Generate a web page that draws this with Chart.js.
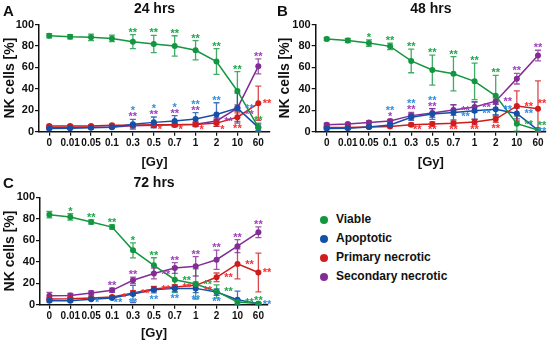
<!DOCTYPE html>
<html lang="en">
<head>
<meta charset="UTF-8" />
<title>NK cells after irradiation</title>
<script src="https://cdn.jsdelivr.net/npm/chart.js@4.4.1/dist/chart.umd.min.js"></script>
<style>
  body { margin: 0; background: #fff; font-family: 'Liberation Sans', Arial, sans-serif; }
  #wrap { position: relative; width: 550px; height: 343px; overflow: hidden; }
  .panel { position: absolute; }
  .letter { position: absolute; font-size: 15px; line-height: 15px; font-weight: bold; color: #111; }
  #legend { position: absolute; left: 320px; top: 210px; font-size: 12px; font-weight: bold; color: #111; }
  #legend div { height: 19px; line-height: 19px; white-space: nowrap; display: flex; align-items: center; }
  #legend i { display: inline-block; width: 8px; height: 8px; border-radius: 50%; margin-right: 8px; }
</style>
</head>
<body>
<div id="wrap">
  <div class="panel" style="left:0;top:0"><canvas id="c24" width="275" height="170"></canvas></div>
  <div class="panel" style="left:275px;top:0"><canvas id="c48" width="275" height="170"></canvas></div>
  <div class="panel" style="left:0;top:170px"><canvas id="c72" width="275" height="173"></canvas></div>
  <div class="letter" style="left:3px;top:3px">A</div>
  <div class="letter" style="left:277px;top:3px">B</div>
  <div class="letter" style="left:3px;top:175px">C</div>
  <div id="legend"></div>
</div>

<script>
  const doses = ['0', '0.01', '0.05', '0.1', '0.3', '0.5', '0.7', '1', '2', '10', '60'];
  const yTickLabels = [0, 20, 40, 60, 80, 100];
  const seriesNames = ['Viable', 'Apoptotic', 'Primary necrotic', 'Secondary necrotic'];

  // 24 hrs
  const viable24 = [89.5, 88.5, 88, 87, 84, 81.8, 80, 76, 65.5, 38, 4];
  const viable24Err = [2, 2, 3, 3, 6.5, 8, 9.5, 9, 12, 18, 4];
  const apopt24 = [3, 3.2, 3.6, 4.2, 7, 8.7, 10, 11.8, 16, 22, 4];
  const apopt24Err = [1, 1, 1, 1, 4.5, 5, 5, 6, 11, 14, 3];
  const prim24 = [5.3, 5.3, 5.3, 6, 6, 6.5, 6.5, 6.8, 8, 13.5, 26.5];
  const prim24Err = [1, 1, 1, 1, 1.5, 2, 2, 2, 3, 4, 16];
  const sec24 = [4, 4, 4.2, 4.5, 5.5, 6, 6.5, 7, 10, 22, 61];
  const sec24Err = [1, 1, 1, 1, 1, 1.5, 1.5, 2, 3, 3, 7];
  const viable24Sig = ['', '', '', '', '**', '**', '**', '**', '**', '**', '**'];
  const apopt24Sig = ['', '', '', '', '*', '*', '*', '**', '**', '**', ''];
  const prim24Sig = ['', '', '', '', '', '*', '*', '*', '*', '**', '**'];
  const sec24Sig = ['', '', '', '', '**', '**', '**', '**', '**', '**', '**'];

  // 48 hrs
  const viable48 = [86.5, 85, 82.7, 79.6, 66, 57.5, 54, 47, 33.5, 7.5, 1.5];
  const viable48Err = [1.5, 2, 3, 3, 11, 14, 16, 17, 19, 7, 1];
  const apopt48 = [3, 3.3, 4.3, 6.2, 13.5, 16.5, 18, 19.6, 21, 17, 1.5];
  const apopt48Err = [1, 1, 1, 1.5, 3, 5, 7, 8, 5, 5, 1];
  const prim48 = [4, 4, 4.5, 4.8, 6.5, 7.2, 7.8, 9, 11.8, 24, 21.5];
  const prim48Err = [1, 1, 1, 1, 1.5, 2, 2, 2.5, 3, 14, 26];
  const sec48 = [6.5, 7.2, 8.5, 10, 15, 17.5, 20.2, 23, 28.5, 49.5, 71];
  const sec48Err = [1.5, 1, 1.5, 1.5, 3, 4, 5, 5, 3, 5, 5];
  const viable48Sig = ['', '', '*', '**', '**', '**', '**', '**', '**', '**', '**'];
  const apopt48Sig = ['', '', '', '**', '**', '**', '**', '**', '**', '**', '**'];
  const prim48Sig = ['', '', '', '', '**', '**', '**', '**', '**', '**', '**'];
  const sec48Sig = ['', '', '', '*', '**', '**', '**', '**', '**', '**', '**'];

  // 72 hrs
  const viable72 = [83.8, 81.7, 77, 72.3, 50.6, 36.7, 23.3, 19.3, 12.4, 2.5, 1];
  const viable72Err = [3, 3, 2, 2, 7, 7, 12, 14, 6, 2, 1];
  const apopt72 = [3.7, 3.7, 5, 6.2, 10, 14, 15.2, 15.2, 11.8, 4.7, 1];
  const apopt72Err = [1, 1, 1, 1, 8, 3, 3, 4, 3, 8, 1];
  const prim72 = [5.3, 5.5, 6.2, 7.2, 11, 14.6, 16.5, 18, 25.5, 38, 30];
  const prim72Err = [1, 1, 1, 1, 2, 2, 2, 3, 4, 14, 18];
  const sec72 = [8.4, 8.6, 10.9, 13.4, 22.7, 29, 34.2, 35.7, 41.9, 54.5, 67.4];
  const sec72Err = [3, 2, 2, 2, 3, 5, 5, 9, 9, 6, 5];
  const viable72Sig = ['', '*', '**', '**', '*', '**', '**', '**', '**', '**', '**'];
  const apopt72Sig = ['', '', '*', '**', '**', '**', '**', '**', '**', '', '**'];
  const prim72Sig = ['', '', '', '*', '**', '**', '**', '**', '**', '**', '**'];
  const sec72Sig = ['', '', '', '**', '**', '**', '**', '**', '**', '**', '**'];

  const lineColors = ['#12963f', '#1450a8', '#d01c1c', '#842c95'];
  const starColors = ['#1fa84c', '#2f90e0', '#ff2c2c', '#a040bb'];
  const FONT = "'Liberation Sans', Arial, sans-serif";

  // where each asterisk sits: a = above error bar, b = below, d = below right, r = right of point
  const places = {
    c24: ['aaaaaaaaaaa', 'aaaaaaaaara', 'dddddddddbr', 'aaaaaaaarra'],
    c48: ['aaaaaaaaarr', 'aaaaaarrrrr', 'dddddbbbbrr', 'aaaaaarrraa'],
    c72: ['aaaaaarrrra', 'bbddbbbbbbr', 'rrrrrrrrrrr', 'aaaaaraaaaa']
  };

  const errorBars = {
    id: 'errorBars',
    beforeDatasetsDraw(chart) {
      const { ctx, scales: { y } } = chart;
      chart.data.datasets.forEach((ds, di) => {
        const meta = chart.getDatasetMeta(di);
        ctx.save();
        ctx.strokeStyle = ds.borderColor;
        ctx.globalAlpha = 0.8;
        ctx.lineWidth = 1.3;
        meta.data.forEach((pt, i) => {
          const v = ds.data[i].y, e = ds.err[i];
          const top = y.getPixelForValue(v + e);
          const bot = y.getPixelForValue(Math.max(0, v - e));
          ctx.beginPath();
          ctx.moveTo(pt.x, top); ctx.lineTo(pt.x, bot);
          ctx.moveTo(pt.x - 3, top); ctx.lineTo(pt.x + 3, top);
          ctx.moveTo(pt.x - 3, bot); ctx.lineTo(pt.x + 3, bot);
          ctx.stroke();
        });
        ctx.restore();
      });
    }
  };

  const sigStars = {
    id: 'sigStars',
    afterDatasetsDraw(chart) {
      const { ctx, chartArea, scales: { y } } = chart;
      const sets = chart.data.datasets;
      const pl = places[chart.canvas.id];
      ctx.save();
      ctx.font = 'bold 11px ' + FONT;
      ctx.textAlign = 'center';
      const put = (txt, x, cy, color) => { ctx.fillStyle = color; ctx.fillText(txt, x, cy + 6); };
      for (let i = 0; i < doses.length; i++) {
        const x = chart.getDatasetMeta(0).data[i].x;
        const xr = Math.min(x + 12, chart.width - 8);
        const above = [], right = [];
        [3, 2, 1, 0].forEach(di => {
          const ds = sets[di], txt = ds.sig[i];
          if (!txt) return;
          const v = ds.data[i].y, e = ds.err[i], p = pl[di][i];
          if (p === 'a') above.push({ txt, color: ds.starColor, y: y.getPixelForValue(v + e) - 5 });
          else if (p === 'r') right.push({ txt, color: ds.starColor, v, di, y: y.getPixelForValue(v) - 2 });
          else {
            const cy = Math.min(y.getPixelForValue(Math.max(0, v - e)) + 4, chartArea.bottom - 5);
            put(txt, x + (p === 'd' ? 6 : 0), cy, ds.starColor);
          }
        });
        const groups = [];
        above.forEach(s => {
          const g = groups.find(g => Math.abs(g.base - s.y) < 25);
          if (g) { g.base = Math.min(g.base, s.y); g.items.push(s); }
          else groups.push({ base: s.y, items: [s] });
        });
        groups.forEach(g => g.items.forEach((s, k) => put(s.txt, x, g.base - k * 6, s.color)));
        right.sort((a, b) => (b.v - a.v) || (a.di - b.di));
        const ys = [];
        right.forEach(s => {
          let cy = s.y;
          ys.forEach(py => { if (Math.abs(py - cy) < 6) cy = py + 6; });
          ys.push(cy);
        });
        const shift = Math.max(0, Math.max(0, ...ys) - (chartArea.bottom - 3));
        right.forEach((s, k) => put(s.txt, xr, ys[k] - shift, s.color));
      }
      ctx.restore();
    }
  };

  function makePanel(id, title, values, errs, sigs, box) {
    const canvas = document.getElementById(id);
    const datasets = values.map((vals, k) => ({
      label: seriesNames[k],
      data: vals.map((v, i) => ({ x: i, y: v })),
      err: errs[k],
      sig: sigs[k],
      starColor: starColors[k],
      borderColor: lineColors[k],
      backgroundColor: lineColors[k],
      borderWidth: 1.5,
      pointRadius: 3,
      pointBorderWidth: 0,
      tension: 0
    }));
    new Chart(canvas, {
      type: 'line',
      data: { datasets },
      plugins: [errorBars, sigStars],
      options: {
        responsive: false,
        animation: false,
        devicePixelRatio: 1,
        layout: { padding: { left: 0, right: canvas.width - box.right, top: 0, bottom: box.padBottom } },
        plugins: {
          legend: { display: false },
          tooltip: { enabled: false },
          title: {
            display: true,
            text: title,
            fullSize: false,
            color: '#111',
            font: { family: FONT, size: 14, weight: 'bold' },
            padding: { top: box.titleTop, bottom: box.top - box.titleTop - 16.8 }
          }
        },
        scales: {
          x: {
            type: 'linear',
            min: box.xmin,
            max: box.xmax,
            afterFit: s => { s.height = canvas.height - box.padBottom - box.bottom; },
            afterBuildTicks: s => { s.ticks = doses.map((d, i) => ({ value: i })); },
            ticks: {
              callback: v => doses[v],
              autoSkip: false,
              maxRotation: 0,
              padding: 2,
              color: '#111',
              font: { family: FONT, size: 10, weight: 'bold' }
            },
            grid: { drawOnChartArea: false, drawTicks: true, tickLength: 4, color: '#111', lineWidth: 1.2 },
            border: { color: '#111', width: 1.5 },
            title: {
              display: true, text: '[Gy]', color: '#111', padding: 0,
              font: { family: FONT, size: 13, weight: 'bold' }
            }
          },
          y: {
            min: 0,
            max: 100,
            afterFit: s => { s.width = box.left; },
            ticks: {
              stepSize: 10,
              callback: v => yTickLabels.includes(v) ? String(v) : '',
              padding: 1,
              color: '#111',
              font: { family: FONT, size: 11, weight: 'bold' }
            },
            grid: { drawOnChartArea: false, drawTicks: true, tickLength: 4, color: '#111', lineWidth: 1.2 },
            border: { color: '#111', width: 1.5 },
            title: {
              display: true, text: 'NK cells [%]', color: '#111', padding: { top: 2, bottom: 0 },
              font: { family: FONT, size: 14, weight: 'bold' }
            }
          }
        }
      }
    });
  }

  makePanel('c24', '24 hrs',
    [viable24, apopt24, prim24, sec24],
    [viable24Err, apopt24Err, prim24Err, sec24Err],
    [viable24Sig, apopt24Sig, prim24Sig, sec24Sig],
    { left: 39, right: 270, top: 24.5, bottom: 131.7, titleTop: 1, padBottom: 0, xmin: -0.49, xmax: 10.56 });

  makePanel('c48', '48 hrs',
    [viable48, apopt48, prim48, sec48],
    [viable48Err, apopt48Err, prim48Err, sec48Err],
    [viable48Sig, apopt48Sig, prim48Sig, sec48Sig],
    { left: 40.7, right: 271.7, top: 24.5, bottom: 131.7, titleTop: 1, padBottom: 0, xmin: -0.52, xmax: 10.38 });

  makePanel('c72', '72 hrs',
    [viable72, apopt72, prim72, sec72],
    [viable72Err, apopt72Err, prim72Err, sec72Err],
    [viable72Sig, apopt72Sig, prim72Sig, sec72Sig],
    { left: 40, right: 268, top: 27.3, bottom: 134.7, titleTop: 4.9, padBottom: 2, xmin: -0.45, xmax: 10.46 });

  const legend = document.getElementById('legend');
  seriesNames.forEach((name, k) => {
    const row = document.createElement('div');
    row.innerHTML = '<i style="background:' + lineColors[k] + '"></i>' + name;
    legend.appendChild(row);
  });
</script>
</body>
</html>
